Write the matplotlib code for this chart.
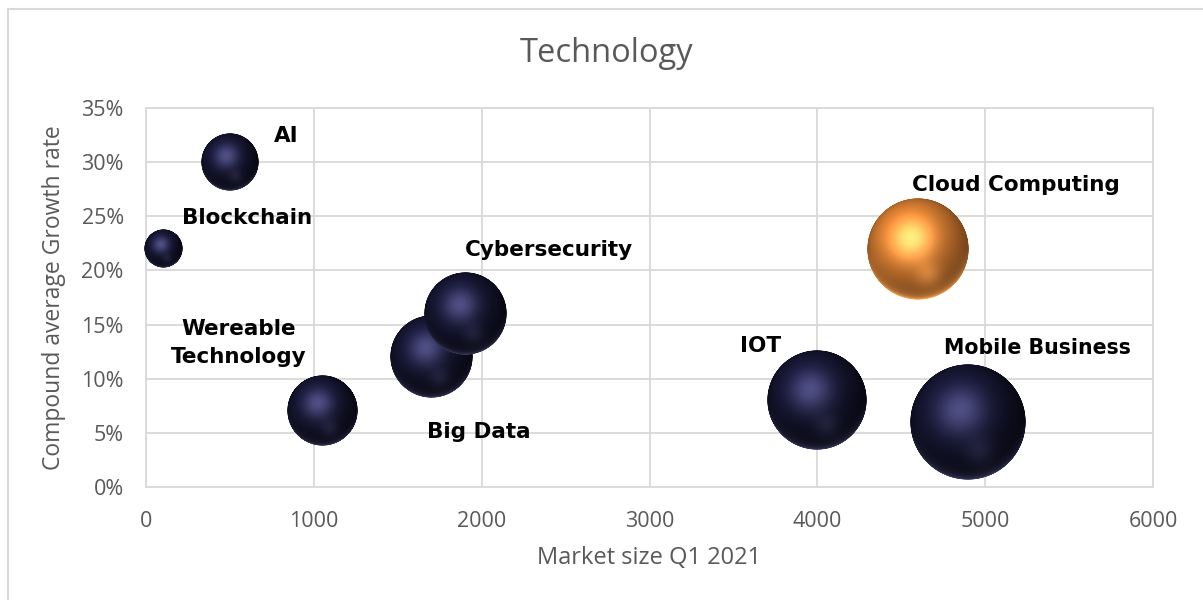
import numpy as np
import matplotlib
matplotlib.use("Agg")
import matplotlib.pyplot as plt
from matplotlib.offsetbox import OffsetImage, AnnotationBbox
from matplotlib.patches import Rectangle
from matplotlib.ticker import FuncFormatter, MultipleLocator

# data
names = ["AI", "Blockchain", "Wereable\nTechnology", "Big Data", "Cybersecurity",
         "IOT", "Mobile Business", "Cloud Computing"]
market_size = [500, 100, 1050, 1700, 1900, 4000, 4900, 4600]
growth_rate = [0.30, 0.22, 0.07, 0.12, 0.16, 0.08, 0.06, 0.22]
bubble_size = [25, 11, 37, 51, 51, 74, 100, 77]
highlight = "Cloud Computing"

# label offsets from bubble centre, in pixels
label_offsets = {
    "AI": (56, 26), "Blockchain": (84, 31), "Wereable\nTechnology": (-84, 68),
    "Big Data": (47, -75), "Cybersecurity": (84, 64), "IOT": (-57, 54),
    "Mobile Business": (69, 74), "Cloud Computing": (98, 64),
}

DPI = 100
GREY = "#595959"
GRID = "#d9d9d9"
FONT = "Open Sans"
MAX_DIAM = 116  # px of the largest bubble


def sphere(diam_px, base, spec_col, rim_col, ambient, ss=4):
    n = int(diam_px * ss)
    t = np.linspace(-1, 1, n)
    u, v = np.meshgrid(t, -t)
    r2 = u ** 2 + v ** 2
    z = np.sqrt(np.clip(1 - r2, 0, 1))
    L = np.array([-0.25, 0.4, 0.88])
    L = L / np.linalg.norm(L)
    d = np.clip(u * L[0] + v * L[1] + z * L[2], 0, 1)
    H = L + np.array([0, 0, 1.0])
    H = H / np.linalg.norm(H)
    s = np.clip(u * H[0] + v * H[1] + z * H[2], 0, 1) ** 12
    rim = np.clip(-v, 0, 1) * (1 - z) ** 3
    glow = np.exp(-((u - 0.2) ** 2 + (v + 0.5) ** 2) / 0.06) * 0.2
    base = np.array(base)
    img = base * (ambient + (1 - ambient) * d ** 1.8)[..., None]
    img += np.array(spec_col) * (0.45 * s)[..., None]
    img += np.array(rim_col) * (0.9 * rim + glow)[..., None]
    img = np.clip(img, 0, 1)
    rr = np.sqrt(r2)
    alpha = np.clip((1 - rr) * n / 2 / 1.2, 0, 1)
    return np.dstack([img, alpha])


fig = plt.figure(figsize=(1203 / DPI, 600 / DPI), dpi=DPI)
fig.patches.append(Rectangle((8 / 1203, -0.1), 1.2, (600 - 9) / 600 + 0.1,
                             transform=fig.transFigure, fill=False,
                             edgecolor=GRID, linewidth=1.5))
ax = fig.add_axes([146 / 1203, 1 - 487 / 600, (1153 - 146) / 1203, (487 - 108) / 600])

ax.set_xlim(0, 6000)
ax.set_ylim(0, 0.35)
ax.xaxis.set_major_locator(MultipleLocator(1000))
ax.yaxis.set_major_locator(MultipleLocator(0.05))
ax.yaxis.set_major_formatter(FuncFormatter(lambda v, p: f"{v * 100:.0f}%"))
ax.grid(True, color=GRID, linewidth=1.3)
ax.set_axisbelow(True)
for sp in ax.spines.values():
    sp.set_color(GRID)
    sp.set_linewidth(1.3)
ax.tick_params(length=0, labelsize=15.5, labelcolor=GREY)
ax.tick_params(axis="x", pad=17)
ax.tick_params(axis="y", pad=16)
for lab in ax.get_xticklabels() + ax.get_yticklabels():
    lab.set_fontfamily(FONT)

ax.set_xlabel("Market size Q1 2021", fontsize=17, color=GREY, family=FONT, labelpad=10)
ax.set_ylabel("Compound average Growth rate", fontsize=16.5, color=GREY, family=FONT, labelpad=11)
fig.text(607 / 1203, 1 - 53 / 600, "Technology", fontsize=23.5, color=GREY,
         family=FONT, ha="center", va="center")

for i, (name, x, y, b) in enumerate(zip(names, market_size, growth_rate, bubble_size)):
    diam = MAX_DIAM * np.sqrt(b / 100)
    if name == highlight:
        img = sphere(diam, (0.96, 0.56, 0.22), (1.0, 0.88, 0.65), (1.0, 0.72, 0.45), 0.5)
    else:
        img = sphere(diam, (0.11, 0.11, 0.25), (0.45, 0.45, 0.62), (0.35, 0.35, 0.52), 0.3)
    ab = AnnotationBbox(OffsetImage(img, zoom=72 / DPI / 4), (x, y), frameon=False,
                        pad=0, zorder=3 + i, annotation_clip=False)
    ax.add_artist(ab)
    dx, dy = label_offsets[name]
    fs = 14.8 if name == "Mobile Business" else 15.5
    ax.annotate(name, (x, y), xytext=(dx, dy), textcoords="offset pixels",
                ha="center", va="center", fontsize=fs, fontweight="bold",
                family="DejaVu Sans", color="black", zorder=20,
                linespacing=1.5, annotation_clip=False)

fig.savefig("out.png", dpi=DPI)
